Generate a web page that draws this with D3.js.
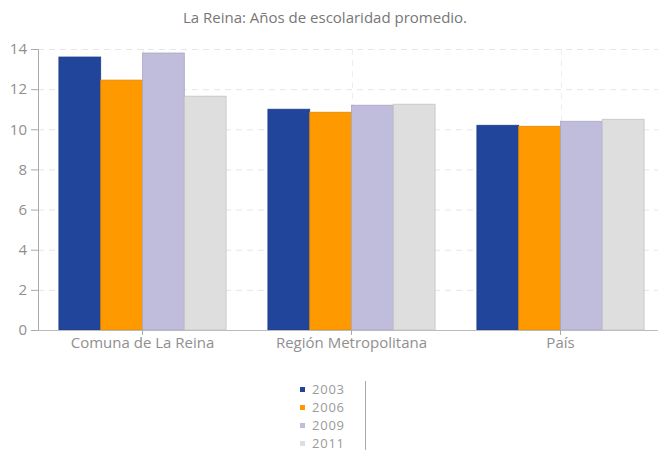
<!DOCTYPE html>
<html lang="es">
<head>
    <meta charset="UTF-8">
    <script src="https://d3js.org/d3.v7.min.js"></script>
    <style>
        body { margin: 0; background: #fff; font-family: "Open Sans", sans-serif; }
        .tick text { font-size: 15px; fill: #8f8f8f; }
        .title { font-size: 15px; fill: #777; }
        .legend text { font-size: 13px; fill: #9a9a9a; }
    </style>
</head>
<body>
    <svg id="chart"></svg>
    <script>
        const categories = ["Comuna de La Reina", "Región Metropolitana", "País"];
        const years = ["2003", "2006", "2009", "2011"];
        const values2003 = [13.6, 11.0, 10.2];
        const values2006 = [12.45, 10.85, 10.15];
        const values2009 = [13.8, 11.2, 10.4];
        const values2011 = [11.65, 11.25, 10.5];
        const yTicks = [0, 2, 4, 6, 8, 10, 12, 14];
        const colors = ["#21459a", "#ff9900", "#c0bcdc", "#dedede"];

        const series = [values2003, values2006, values2009, values2011];
        const data = categories.map((c, i) => ({
            cat: c,
            vals: years.map((y, j) => ({ year: y, value: series[j][i] }))
        }));

        const width = 658, height = 451;
        const margin = { top: 49, left: 38, bottom: 121 };
        const plotRight = 665;

        const svg = d3.select("#chart")
            .attr("width", width)
            .attr("height", height);

        const x0 = d3.scaleBand()
            .domain(categories)
            .range([margin.left, plotRight])
            .padding(0);

        const x1 = d3.scaleBand()
            .domain(years)
            .range([0, x0.bandwidth()])
            .paddingOuter(0.5);

        const y = d3.scaleLinear()
            .domain([0, 14])
            .range([height - margin.bottom, margin.top]);

        // grid
        svg.append("g")
            .selectAll("line")
            .data(yTicks.slice(1))
            .enter()
            .append("line")
            .attr("x1", margin.left)
            .attr("x2", width)
            .attr("y1", d => y(d) + 0.5)
            .attr("y2", d => y(d) + 0.5)
            .attr("stroke", "#e6e6e6")
            .attr("stroke-dasharray", "6,5");

        svg.append("g")
            .selectAll("line")
            .data(categories)
            .enter()
            .append("line")
            .attr("x1", d => Math.round(x0(d) + x0.bandwidth() / 2) + 0.5)
            .attr("x2", d => Math.round(x0(d) + x0.bandwidth() / 2) + 0.5)
            .attr("y1", y(14))
            .attr("y2", y(0))
            .attr("stroke", "#eeeeee")
            .attr("stroke-dasharray", "6,5");

        // bars
        svg.append("g")
            .selectAll("g")
            .data(data)
            .enter()
            .append("g")
            .attr("transform", d => `translate(${x0(d.cat)},0)`)
            .selectAll("rect")
            .data(d => d.vals)
            .enter()
            .append("rect")
            .attr("x", d => x1(d.year))
            .attr("y", d => y(d.value))
            .attr("width", x1.bandwidth())
            .attr("height", d => y(0) - y(d.value))
            .attr("fill", (d, i) => colors[i])
            .attr("stroke", (d, i) => d3.color(colors[i]).darker(0.35))
            .attr("stroke-width", 0.8);

        // axes
        const yAxis = svg.append("g")
            .attr("transform", `translate(${margin.left},0)`)
            .call(d3.axisLeft(y).tickValues(yTicks).tickSize(7).tickPadding(4));
        yAxis.select(".domain").attr("stroke", "#aaa");
        yAxis.selectAll(".tick line").attr("stroke", "#aaa");

        const xAxis = svg.append("g")
            .attr("transform", `translate(0,${y(0)})`)
            .call(d3.axisBottom(x0).tickSize(5).tickSizeOuter(0).tickPadding(2));
        xAxis.select(".domain").attr("stroke", "#bbb");
        xAxis.selectAll(".tick line").attr("stroke", "#aaa");
        svg.selectAll(".tick text").attr("font-family", "Open Sans, sans-serif");

        svg.append("text")
            .attr("class", "title")
            .attr("x", 325)
            .attr("y", 23)
            .attr("text-anchor", "middle")
            .text("La Reina: Años de escolaridad promedio.");

        // legend
        const legend = svg.append("g").attr("class", "legend");
        const rows = legend.selectAll("g")
            .data(years)
            .enter()
            .append("g")
            .attr("transform", (d, i) => `translate(300,${389 + i * 18})`);
        rows.append("rect")
            .attr("x", 0)
            .attr("y", -2)
            .attr("width", 5)
            .attr("height", 5)
            .attr("fill", (d, i) => colors[i]);
        rows.append("text")
            .attr("x", 12)
            .attr("dy", "0.35em")
            .attr("textLength", 32)
            .text(d => d);
        legend.append("line")
            .attr("x1", 365.5).attr("x2", 365.5)
            .attr("y1", 381).attr("y2", 450)
            .attr("stroke", "#aaa");
    </script>
</body>
</html>
